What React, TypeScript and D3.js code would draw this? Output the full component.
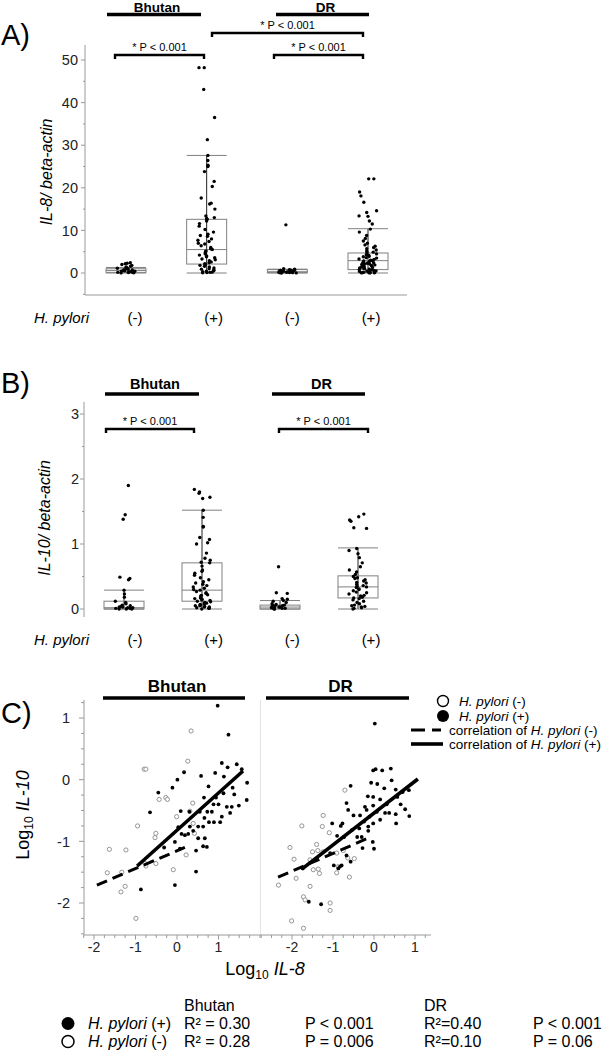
import React from "react";
import * as d3 from "d3";

const FONT = "'Liberation Sans', Arial, Helvetica, sans-serif";

// ---------- shared categories ----------
const GROUPS = ["Bhutan (-)", "Bhutan (+)", "DR (-)", "DR (+)"];
const HP_LABELS = ["(-)", "(+)", "(-)", "(+)"];
const COUNTRIES = ["Bhutan", "DR"];

// ---------- Panel A: IL-8 / beta-actin ----------
const A_TICKS = [0, 10, 20, 30, 40, 50];
const A_MINOR = [-5, 5, 15, 25, 35, 45];
const A_BHU_NEG = [2.4, 2.3, 2.2, 2.0, 1.8, 1.6, 1.4, 1.3, 1.2, 1.1, 1.0, 0.9, 0.8, 0.7, 0.6, 0.5, 0.45, 0.4, 0.3, 0.25, 0.2, 0.15, 0.1, 0.05, 0.02];
const A_BHU_POS = [48.2, 48.2, 43.1, 36.5, 31.3, 27.6, 26.4, 25.3, 25.0, 23.8, 21.5, 20.3, 17.6, 16.4, 16.2, 15.0, 13.4, 13.0, 12.8, 12.6, 12.2, 11.6, 11.0, 10.2, 9.6, 9.1, 8.8, 8.6, 8.0, 7.7, 7.4, 7.0, 6.8, 6.4, 6.0, 5.7, 5.5, 5.2, 5.0, 4.8, 4.5, 4.2, 4.0, 3.8, 3.6, 3.3, 3.1, 2.9, 2.6, 2.4, 2.2, 2.0, 1.8, 1.6, 1.4, 1.2, 1.0, 0.9, 0.7, 0.6, 0.5, 0.4, 0.3, 0.2, 0.15, 0.1, 0.05];
const A_DR_NEG = [11.3, 1.0, 0.9, 0.8, 0.7, 0.65, 0.6, 0.55, 0.5, 0.45, 0.4, 0.35, 0.3, 0.3, 0.25, 0.2, 0.2, 0.15, 0.15, 0.1, 0.1, 0.08, 0.05, 0.05, 0.03, 0.02];
const A_DR_POS = [22.1, 22.1, 19.0, 18.1, 16.6, 14.6, 14.2, 13.4, 13.3, 12.2, 11.5, 10.3, 9.6, 8.8, 8.1, 7.5, 7.0, 6.6, 6.3, 6.0, 5.7, 5.4, 5.1, 4.9, 4.7, 4.5, 4.3, 4.1, 3.9, 3.8, 3.6, 3.5, 3.3, 3.2, 3.0, 2.9, 2.8, 2.7, 2.5, 2.4, 2.3, 2.2, 2.1, 2.0, 1.9, 1.8, 1.7, 1.6, 1.5, 1.4, 1.3, 1.2, 1.1, 1.0, 0.9, 0.8, 0.7, 0.6, 0.5, 0.45, 0.4, 0.35, 0.3, 0.25, 0.2, 0.15, 0.1, 0.1, 0.05, 0.05, 0.02, 0.02];
const A_Q1 = [0.15, 2.1, 0.08, 0.8];
const A_MED = [0.6, 5.5, 0.3, 2.9];
const A_Q3 = [1.0, 12.6, 0.8, 4.7];
const A_WLO = [0, 0, 0, 0];
const A_WHI = [1.3, 27.6, 0.9, 10.4];

// ---------- Panel B: IL-10 / beta-actin ----------
const B_TICKS = [0, 1, 2, 3];
const B_MINOR = [0.5, 1.5, 2.5];
const B_BHU_NEG = [1.9, 1.45, 1.38, 0.49, 0.47, 0.45, 0.29, 0.23, 0.18, 0.12, 0.1, 0.08, 0.06, 0.05, 0.04, 0.03, 0.03, 0.02, 0.02, 0.01, 0.01, 0.01, 0.0, 0.0, 0.0];
const B_BHU_POS = [1.84, 1.8, 1.78, 1.72, 1.7, 1.52, 1.41, 1.27, 1.26, 1.1, 1.07, 1.02, 1.0, 0.86, 0.78, 0.75, 0.72, 0.71, 0.66, 0.6, 0.58, 0.55, 0.52, 0.48, 0.45, 0.42, 0.4, 0.38, 0.36, 0.34, 0.32, 0.3, 0.29, 0.27, 0.25, 0.24, 0.22, 0.21, 0.2, 0.18, 0.17, 0.16, 0.15, 0.14, 0.13, 0.12, 0.11, 0.1, 0.09, 0.08, 0.07, 0.06, 0.05, 0.05, 0.04, 0.03, 0.03, 0.02, 0.02, 0.01, 0.01, 0.0];
const B_DR_NEG = [0.65, 0.25, 0.24, 0.16, 0.15, 0.13, 0.12, 0.1, 0.08, 0.07, 0.06, 0.05, 0.05, 0.04, 0.04, 0.03, 0.03, 0.02, 0.02, 0.01, 0.01, 0.01, 0.0, 0.0];
const B_DR_POS = [1.46, 1.42, 1.37, 1.35, 1.25, 1.24, 0.93, 0.9, 0.85, 0.79, 0.71, 0.65, 0.6, 0.57, 0.53, 0.5, 0.48, 0.47, 0.45, 0.43, 0.41, 0.4, 0.38, 0.36, 0.35, 0.34, 0.33, 0.31, 0.3, 0.28, 0.26, 0.25, 0.23, 0.21, 0.2, 0.18, 0.17, 0.16, 0.14, 0.12, 0.1, 0.08, 0.06, 0.05, 0.04, 0.03, 0.02, 0.01, 0.0];
const B_Q1 = [0.0, 0.12, 0.0, 0.17];
const B_MED = [0.02, 0.29, 0.03, 0.34];
const B_Q3 = [0.12, 0.71, 0.06, 0.51];
const B_WLO = [0, 0, 0, 0];
const B_WHI = [0.29, 1.52, 0.13, 0.94];

// ---------- Panel C: log10 IL-8 vs log10 IL-10 ----------
const C_YTICKS = [-2, -1, 0, 1];
const C_XTICKS = [-2, -1, 0, 1];
const C_BHU_POS: [number, number][] = [[0.98,1.2],[1.24,0.73],[1.08,0.27],[1.22,0.2],[1.44,0.25],[1.56,0.17],[0.92,0.11],[1.13,0.05],[0.17,0.12],[0.58,0.06],[0.76,-0.11],[0.01,0.0],[-0.11,-0.13],[-0.45,-0.21],[-0.65,-0.53],[1.69,-0.05],[1.34,-0.13],[1.38,-0.24],[1.68,-0.33],[1.49,-0.42],[1.12,-0.22],[0.94,-0.29],[0.65,-0.29],[0.88,-0.4],[1.0,-0.4],[0.84,-0.52],[0.73,-0.52],[0.55,-0.52],[1.2,-0.44],[1.32,-0.44],[1.28,-0.54],[1.08,-0.6],[1.04,-0.69],[0.66,-0.62],[0.77,-0.69],[0.63,-0.76],[0.51,-0.76],[0.89,-0.69],[0.31,-0.76],[0.09,-0.51],[0.3,-0.52],[0.03,-0.77],[0.39,-0.83],[0.27,-0.88],[0.19,-0.9],[0.67,-0.95],[0.51,-0.95],[0.63,-1.08],[0.72,-1.09],[0.46,-1.15],[0.11,-0.88],[-0.05,-1.01],[0.07,-1.12],[-0.31,-1.1],[0.46,-1.49],[-0.87,-1.78],[-0.05,-1.71]];
const C_BHU_NEG: [number, number][] = [[0.34,0.79],[0.26,0.3],[-0.79,0.17],[-0.75,0.17],[-0.43,-0.32],[-0.27,-0.29],[-0.23,-0.32],[-0.95,-0.75],[-0.51,-0.87],[-0.53,-0.94],[-0.01,-0.6],[0.31,-0.51],[0.39,-0.71],[0.42,-0.87],[-1.63,-1.13],[-1.23,-1.14],[-0.77,-1.36],[-0.51,-1.36],[-1.68,-1.51],[-1.33,-1.5],[-1.25,-1.73],[-1.35,-1.82],[-0.99,-2.25],[-0.09,-1.46],[0.22,-1.22],[0.38,-0.38],[-0.75,-1.4]];
const C_DR_POS: [number, number][] = [[0.02,0.91],[-0.02,0.15],[0.04,0.17],[0.2,0.15],[0.41,0.18],[-0.57,-0.1],[-0.07,-0.05],[0.08,-0.07],[0.43,-0.01],[0.25,-0.14],[0.53,-0.16],[0.7,-0.2],[0.85,-0.17],[-0.15,-0.27],[-0.02,-0.28],[0.15,-0.32],[0.31,-0.4],[0.65,-0.4],[0.76,-0.48],[0.86,-0.59],[0.54,-0.71],[0.37,-0.54],[-0.02,-0.42],[-0.67,-0.38],[-0.63,-0.49],[-0.5,-0.58],[-0.34,-0.58],[-0.11,-0.6],[0.07,-0.52],[-0.24,-0.68],[-0.36,-0.79],[-0.14,-0.76],[-0.77,-0.71],[-0.81,-0.75],[-1.02,-0.71],[-0.54,-0.82],[-0.73,-0.93],[-0.9,-0.91],[-0.3,-0.93],[-0.03,-1.01],[0.0,-1.12],[-0.28,-1.11],[-1.07,-1.19],[-0.67,-1.23],[-0.79,-1.39],[-0.57,-1.33],[-0.87,-1.44],[-1.74,-1.44],[-1.59,-1.98],[-1.29,-2.02],[-0.22,-0.44],[0.53,-0.56],[0.57,-0.28],[0.27,-0.54],[0.15,-0.65],[-0.18,-0.49],[-0.41,-0.93],[-0.14,-0.83],[-0.02,-0.71],[-0.98,-1.39],[-0.83,-1.41]];
const C_DR_NEG: [number, number][] = [[-0.71,-0.17],[-1.24,-0.58],[-1.76,-0.75],[-1.26,-0.76],[-1.09,-0.86],[-1.4,-1.05],[-1.5,-1.17],[-1.37,-1.15],[-1.24,-1.17],[-2.05,-1.1],[-1.95,-1.29],[-1.56,-1.3],[-1.9,-1.6],[-2.33,-1.71],[-1.56,-1.73],[-1.72,-1.9],[-1.68,-1.95],[-1.07,-2.0],[-1.07,-2.12],[-2.01,-2.29],[-0.91,-1.19],[-0.75,-1.15],[-0.64,-1.27],[-0.48,-1.28],[-0.6,-1.58],[-0.87,-1.41],[-1.33,-1.52],[-1.48,-1.46],[-1.72,-2.41],[-1.36,-1.45],[-0.91,-1.51]];
// regression lines: x range plus slope / intercept
const C_BHU_FIT_POS = { x: [-0.96, 1.59], slope: 0.604, intercept: -0.82 };
const C_BHU_FIT_NEG = { x: [-1.93, 0.19], slope: 0.288, intercept: -1.154 };
const C_DR_FIT_POS = { x: [-1.76, 1.07], slope: 0.516, intercept: -0.542 };
const C_DR_FIT_NEG = { x: [-2.34, -0.15], slope: 0.288, intercept: -0.907 };

// ---------- stats legend ----------
const STAT_ROWS = ["(+)", "(-)"];
const STAT_BHU_R2 = ["R\u00b2 = 0.30", "R\u00b2 = 0.28"];
const STAT_BHU_P = ["P < 0.001", "P = 0.006"];
const STAT_DR_R2 = ["R\u00b2=0.40", "R\u00b2=0.10"];
const STAT_DR_P = ["P < 0.001", "P = 0.06"];

// deterministic horizontal jitter (hash of index), purely positional
const jitter = (i: number, g: number) => {
  const s = Math.sin((i + 1) * 12.9898 + (g + 1) * 78.233) * 43758.5453;
  return (s - Math.floor(s) - 0.5) * 18;
};
const AXIS = "#9a9a9a";
const BOXC = "#808080";

function Bracket({ x1, x2, y, text }: { x1: number; x2: number; y: number; text: string }) {
  return (
    <g>
      <path d={`M${x1},${y + 4}V${y}H${x2}V${y + 4}`} fill="none" stroke="#000" strokeWidth={2.4} />
      <text x={(x1 + x2) / 2} y={y - 4} textAnchor="middle" fontSize={11}>{text}</text>
    </g>
  );
}

function Header({ x1, x2, y, text, fs, gap }: { x1: number; x2: number; y: number; text: string; fs: number; gap: number }) {
  return (
    <g>
      <text x={(x1 + x2) / 2 + 3} y={y - gap} textAnchor="middle" fontSize={fs} fontWeight="bold">{text}</text>
      <line x1={x1} x2={x2} y1={y} y2={y} stroke="#000" strokeWidth={3.6} />
    </g>
  );
}

function BoxPanel(props: any) {
  const { y, yTop, yBot, major, minor, xc, xl, pts, q1, med, q3, wlo, whi, catY, xAxis, hw, axX, lblX } = props;
  return (
    <g>
      <line x1={axX} x2={axX} y1={yTop} y2={yBot} stroke={AXIS} />
      {major.map((t: number) => (
        <g key={"M" + t}>
          <line x1={axX - 4} x2={axX} y1={y(t)} y2={y(t)} stroke={AXIS} />
          <text x={lblX} y={y(t)} dy="0.36em" textAnchor="end" fontSize={14.5} fill="#222">{t}</text>
        </g>
      ))}
      {minor.map((t: number) => (
        <line key={"m" + t} x1={axX - 2} x2={axX} y1={y(t)} y2={y(t)} stroke={AXIS} />
      ))}
      {xAxis && <line x1={axX} x2={407} y1={yBot} y2={yBot} stroke={AXIS} />}
      {GROUPS.map((g, gi) => {
        const cx = xc(g);
        return (
          <g key={g}>
            <line x1={cx} x2={cx} y1={y(whi[gi])} y2={y(wlo[gi])} stroke="#222" strokeWidth={1} />
            <rect x={cx - hw} y={y(q3[gi])} width={hw * 2} height={Math.max(1, y(q1[gi]) - y(q3[gi]))} fill="none" stroke={BOXC} strokeWidth={1} />
            <line x1={cx - hw} x2={cx + hw} y1={y(med[gi])} y2={y(med[gi])} stroke={BOXC} strokeWidth={1} />
            <line x1={cx - hw} x2={cx + hw} y1={y(whi[gi])} y2={y(whi[gi])} stroke={BOXC} strokeWidth={1} />
            <line x1={cx - hw} x2={cx + hw} y1={y(wlo[gi])} y2={y(wlo[gi])} stroke={BOXC} strokeWidth={1} />
            {pts[gi].map((v: number, i: number) => (
              <circle key={i} cx={cx + jitter(i, gi)} cy={y(v)} r={1.7} fill="#000" />
            ))}
          </g>
        );
      })}
      <text x={34} y={catY} fontStyle="italic" fontSize={15}>H. pylori</text>
      {GROUPS.map((g, gi) => (
        <text key={g} x={xl(g)} y={catY} textAnchor="middle" fontSize={15}>{HP_LABELS[gi]}</text>
      ))}
    </g>
  );
}

function ScatterSub({ x, y, pos, neg, fitPos, fitNeg, xStart, xEnd }: any) {
  const fitPath = (f: any) => {
    const l = d3.line<number>().x((v) => x(v)).y((v) => y(f.slope * v + f.intercept));
    return l(f.x) || "";
  };
  const minor = d3.range(xStart, xEnd + 0.001, 0.25);
  return (
    <g>
      {minor.map((t: number, i: number) => (
        <line key={i} x1={x(t)} x2={x(t)} y1={935} y2={C_XTICKS.includes(t) ? 939.5 : 938} stroke={AXIS} />
      ))}
      {C_XTICKS.map((t) => (
        <text key={"l" + t} x={x(t)} y={952} textAnchor="middle" fontSize={14} fill="#222">{t}</text>
      ))}
      {neg.map((p: [number, number], i: number) => (
        <circle key={"n" + i} cx={x(p[0])} cy={y(p[1])} r={2.1} fill="#fff" stroke="#8a8a8a" strokeWidth={0.9} />
      ))}
      {pos.map((p: [number, number], i: number) => (
        <circle key={"p" + i} cx={x(p[0])} cy={y(p[1])} r={1.9} fill="#000" />
      ))}
      <path d={fitPath(fitNeg)} fill="none" stroke="#000" strokeWidth={3} strokeDasharray="11,6" />
      <path d={fitPath(fitPos)} fill="none" stroke="#000" strokeWidth={3.6} />
    </g>
  );
}

export default function App() {
  // Panel A scales
  const yA = d3.scaleLinear().domain([0, 50]).range([273, 60]);
  const xA = d3.scalePoint<string>().domain(GROUPS).range([126, 368]);
  const xAl = d3.scalePoint<string>().domain(GROUPS).range([135, 371]);
  // Panel B scales
  const yB = d3.scaleLinear().domain([0, 3]).range([609, 414]);
  const xB = d3.scalePoint<string>().domain(GROUPS).range([124, 358]);
  const xBl = d3.scalePoint<string>().domain(GROUPS).range([135, 371]);
  // Panel C scales
  const yC = d3.scaleLinear().domain([-2, 1]).range([903, 718]);
  const xCL = d3.scaleLinear().domain([-2, 1]).range([94, 218.5]);
  const xCR = d3.scaleLinear().domain([-2, 1]).range([292, 415]);

  return (
    <svg width={610} height={1050} style={{ position: "absolute", left: 0, top: 0, background: "#fff" }} fontFamily={FONT}>
      {/* ================= A ================= */}
      <text x={1} y={45} fontSize={29}>A)</text>
      <Header x1={107} x2={201} y={14.5} text={COUNTRIES[0]} fs={13.5} gap={2.5} />
      <Header x1={276} x2={369} y={14.5} text={COUNTRIES[1]} fs={13.5} gap={2.5} />
      <Bracket x1={212} x2={363} y={33} text="* P < 0.001" />
      <Bracket x1={115} x2={204} y={55} text="* P < 0.001" />
      <Bracket x1={274} x2={363} y={55} text="* P < 0.001" />
      <BoxPanel y={yA} yTop={45} yBot={295} major={A_TICKS} minor={A_MINOR} xc={xA} xl={xAl}
        pts={[A_BHU_NEG, A_BHU_POS, A_DR_NEG, A_DR_POS]} q1={A_Q1} med={A_MED} q3={A_Q3} wlo={A_WLO} whi={A_WHI}
        catY={323} xAxis={true} hw={20} axX={85} lblX={78} />
      <text transform="translate(52,172) rotate(-90)" textAnchor="middle" fontSize={16} fontStyle="italic">IL-8/ beta-actin</text>

      {/* ================= B ================= */}
      <text x={1} y={393} fontSize={29}>B)</text>
      <Header x1={105} x2={199} y={394} text={COUNTRIES[0]} fs={14.5} gap={5} />
      <Header x1={272} x2={365} y={394} text={COUNTRIES[1]} fs={14.5} gap={5} />
      <Bracket x1={106} x2={194} y={429} text="* P < 0.001" />
      <Bracket x1={279} x2={368} y={429} text="* P < 0.001" />
      <BoxPanel y={yB} yTop={402} yBot={617} major={B_TICKS} minor={B_MINOR} xc={xB} xl={xBl}
        pts={[B_BHU_NEG, B_BHU_POS, B_DR_NEG, B_DR_POS]} q1={B_Q1} med={B_MED} q3={B_Q3} wlo={B_WLO} whi={B_WHI}
        catY={645} xAxis={false} hw={20} axX={84} lblX={79} />
      <text transform="translate(50,518) rotate(-90)" textAnchor="middle" fontSize={16} fontStyle="italic">IL-10/ beta-actin</text>

      {/* ================= C ================= */}
      <text x={1} y={723} fontSize={29}>C)</text>
      <Header x1={103} x2={245} y={698} text={COUNTRIES[0]} fs={17} gap={6} />
      <Header x1={266} x2={409} y={698} text={COUNTRIES[1]} fs={17} gap={6} />
      <line x1={84} x2={84} y1={700} y2={935} stroke={AXIS} />
      <line x1={260.5} x2={260.5} y1={700} y2={935} stroke="#e4e4e4" />
      <line x1={84} x2={431} y1={935} y2={935} stroke={AXIS} />
      {d3.range(-2.5, 1.26, 0.25).map((t, i) => (
        <line key={i} x1={C_YTICKS.includes(t) ? 79 : 81} x2={84} y1={yC(t)} y2={yC(t)} stroke={AXIS} />
      ))}
      {C_YTICKS.map((t) => (
        <text key={t} x={70} y={yC(t)} dy="0.36em" textAnchor="end" fontSize={14.5} fill="#222">{t}</text>
      ))}
      <ScatterSub x={xCL} y={yC} pos={C_BHU_POS} neg={C_BHU_NEG} fitPos={C_BHU_FIT_POS} fitNeg={C_BHU_FIT_NEG} xStart={-2.25} xEnd={2} />
      <ScatterSub x={xCR} y={yC} pos={C_DR_POS} neg={C_DR_NEG} fitPos={C_DR_FIT_POS} fitNeg={C_DR_FIT_NEG} xStart={-2.75} xEnd={1.25} />
      <text transform="translate(29,815) rotate(-90)" textAnchor="middle" fontSize={18}>
        <tspan>Log</tspan>
        <tspan fontSize={12} dy={4}>10</tspan>
        <tspan dy={-4} fontStyle="italic"> IL-10</tspan>
      </text>
      <text x={265} y={975} textAnchor="middle" fontSize={18}>
        <tspan>Log</tspan>
        <tspan fontSize={12} dy={4}>10</tspan>
        <tspan dy={-4} fontStyle="italic"> IL-8</tspan>
      </text>

      {/* legend C */}
      <g fontSize={13.5}>
        <circle cx={443} cy={701} r={5.5} fill="#fff" stroke="#000" strokeWidth={1.4} />
        <text x={459} y={706}><tspan fontStyle="italic">H. pylori</tspan> (-)</text>
        <circle cx={443} cy={716} r={6} fill="#000" />
        <text x={459} y={721}><tspan fontStyle="italic">H. pylori</tspan> (+)</text>
        <line x1={411} x2={441} y1={730} y2={730} stroke="#000" strokeWidth={3} strokeDasharray="14,7" />
        <text x={449} y={735}>correlation of <tspan fontStyle="italic">H. pylori</tspan> (-)</text>
        <line x1={411} x2={443} y1={744} y2={744} stroke="#000" strokeWidth={3.6} />
        <text x={449} y={749}>correlation of <tspan fontStyle="italic">H. pylori</tspan> (+)</text>
      </g>

      {/* bottom stats legend */}
      <g fontSize={16}>
        <text x={184} y={1011}>{COUNTRIES[0]}</text>
        <text x={424} y={1011}>{COUNTRIES[1]}</text>
        {STAT_ROWS.map((r, i) => {
          const yy = 1029 + i * 18;
          return (
            <g key={r}>
              {i === 0 ? (
                <circle cx={68} cy={yy - 5.5} r={6.5} fill="#000" />
              ) : (
                <circle cx={68} cy={yy - 5.5} r={6} fill="#fff" stroke="#000" strokeWidth={1.5} />
              )}
              <text x={88} y={yy}><tspan fontStyle="italic">H. pylori</tspan> {r}</text>
              <text x={184} y={yy}>{STAT_BHU_R2[i]}</text>
              <text x={305} y={yy}>{STAT_BHU_P[i]}</text>
              <text x={424} y={yy}>{STAT_DR_R2[i]}</text>
              <text x={533} y={yy}>{STAT_DR_P[i]}</text>
            </g>
          );
        })}
      </g>
    </svg>
  );
}
